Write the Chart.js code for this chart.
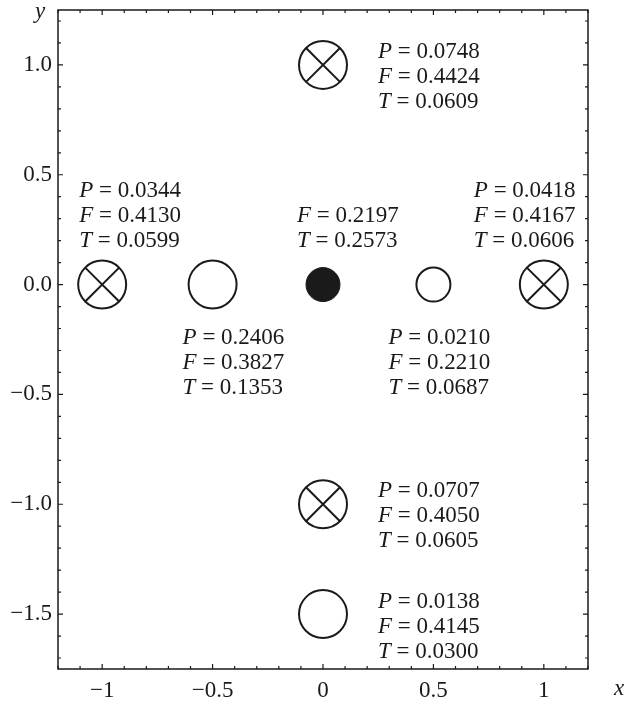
<!DOCTYPE html>
<html>
<head>
<meta charset="utf-8">
<script src="https://cdn.jsdelivr.net/npm/chart.js@4/dist/chart.umd.min.js"></script>
<style>
  html, body { margin: 0; padding: 0; background: #fff; }
</style>
</head>
<body>
<canvas id="myChart" width="625" height="706"></canvas>
<script>
// marker positions
const crossedX = [0, -1, 1, 0];
const crossedY = [1, 0, 0, -1];
const openX = [-0.5, 0.5, 0];
const openY = [0, 0, -1.5];
const filledX = [0];
const filledY = [0];

// annotations, one per point
const labelX = [0, -1, -0.5, 0, 0.5, 1, 0, 0];
const labelY = [1, 0, 0, 0, 0, 0, -1, -1.5];
const pValues = [0.0748, 0.0344, 0.2406, null, 0.0210, 0.0418, 0.0707, 0.0138];
const fValues = [0.4424, 0.4130, 0.3827, 0.2197, 0.2210, 0.4167, 0.4050, 0.4145];
const tValues = [0.0609, 0.0599, 0.1353, 0.2573, 0.0687, 0.0606, 0.0605, 0.0300];

// tick labels
const xTicks = [-1, -0.5, 0, 0.5, 1];
const yTicks = [-1.5, -1.0, -0.5, 0, 0.5, 1.0];

// layout of the text blocks (pixel offsets from the point)
const labelDx = [55, -23, -30, -26, -45, -70, 55, 55];
const labelDy = [-13, -94, 53, -69, 53, -94, -13, -12];
const openRadius = [24, 17, 24];

const ink = '#1a1a1a';
const serif = "'Liberation Serif', 'Times New Roman', serif";
const lineGap = 25;

const minus = v => (v < 0 ? '\u2212' : '');

const frameAndText = {
    id: 'frameAndText',
    afterDraw(chart) {
        const { ctx, chartArea: a, scales: { x, y } } = chart;
        ctx.save();
        ctx.strokeStyle = ink;
        ctx.lineWidth = 1.5;
        ctx.strokeRect(a.left, a.top, a.right - a.left, a.bottom - a.top);

        // inward ticks, every 0.1
        ctx.lineWidth = 1.2;
        ctx.beginPath();
        for (let i = -12; i <= 12; i++) {
            const px = x.getPixelForValue(i / 10);
            const len = i % 5 === 0 ? 5 : 3;
            ctx.moveTo(px, a.bottom); ctx.lineTo(px, a.bottom - len);
            ctx.moveTo(px, a.top); ctx.lineTo(px, a.top + len);
        }
        for (let i = -17; i <= 12; i++) {
            const py = y.getPixelForValue(i / 10);
            const len = i % 5 === 0 ? 5 : 3;
            ctx.moveTo(a.left, py); ctx.lineTo(a.left + len, py);
            ctx.moveTo(a.right, py); ctx.lineTo(a.right - len, py);
        }
        ctx.stroke();

        // axis names
        ctx.fillStyle = ink;
        ctx.font = 'italic 23px ' + serif;
        ctx.textAlign = 'center';
        ctx.textBaseline = 'middle';
        ctx.fillText('y', 40, 12);
        ctx.fillText('x', 619, 689);

        // annotations
        ctx.textAlign = 'left';
        for (let i = 0; i < labelX.length; i++) {
            const px = x.getPixelForValue(labelX[i]) + labelDx[i];
            let py = y.getPixelForValue(labelY[i]) + labelDy[i];
            const rows = [['P', pValues[i]], ['F', fValues[i]], ['T', tValues[i]]];
            rows.forEach(([name, val]) => {
                if (val === null) return;
                ctx.font = 'italic 23px ' + serif;
                ctx.fillText(name, px, py);
                const w = ctx.measureText(name).width;
                ctx.font = '23px ' + serif;
                ctx.fillText(' = ' + val.toFixed(4), px + w, py);
                py += lineGap;
            });
        }
        ctx.restore();
    }
};

const noPad = s => {
    s.paddingTop = 0;
    s.paddingBottom = 0;
    s.paddingLeft = 0;
    s.paddingRight = 0;
};

const toPoints = (xs, ys) => xs.map((v, i) => ({ x: v, y: ys[i] }));

const myChart = new Chart('myChart', {
    type: 'scatter',
    data: {
        datasets: [
            {
                data: toPoints(crossedX, crossedY),
                pointStyle: 'crossRot',
                pointRadius: 24,
                borderColor: ink,
                pointBorderWidth: 2,
                order: 0
            },
            {
                data: toPoints(crossedX, crossedY),
                pointStyle: 'circle',
                pointRadius: 24,
                backgroundColor: '#fff',
                borderColor: ink,
                pointBorderWidth: 2,
                order: 1
            },
            {
                data: toPoints(openX, openY),
                pointStyle: 'circle',
                pointRadius: ctx => openRadius[ctx.dataIndex],
                backgroundColor: '#fff',
                borderColor: ink,
                pointBorderWidth: 2,
                order: 1
            },
            {
                data: toPoints(filledX, filledY),
                pointStyle: 'circle',
                pointRadius: 17,
                backgroundColor: ink,
                borderColor: ink,
                pointBorderWidth: 1,
                order: 1
            }
        ]
    },
    options: {
        responsive: false,
        animation: false,
        events: [],
        layout: {
            autoPadding: false,
            padding: { top: 10, right: 37, left: 0, bottom: 0 }
        },
        scales: {
            x: {
                type: 'linear',
                min: -1.2,
                max: 1.2,
                grid: { display: false, drawTicks: false },
                border: { display: false },
                afterBuildTicks: s => { s.ticks = xTicks.map(v => ({ value: v })); },
                afterFit: s => { s.height = 37; noPad(s); },
                ticks: {
                    color: ink,
                    font: { family: serif, size: 23 },
                    padding: 8,
                    maxRotation: 0,
                    autoSkip: false,
                    callback: v => minus(v) + Math.abs(v)
                }
            },
            y: {
                type: 'linear',
                min: -1.75,
                max: 1.25,
                grid: { display: false, drawTicks: false },
                border: { display: false },
                afterBuildTicks: s => { s.ticks = yTicks.map(v => ({ value: v })); },
                afterFit: s => { s.width = 58; noPad(s); },
                ticks: {
                    color: ink,
                    font: { family: serif, size: 23 },
                    padding: 6,
                    autoSkip: false,
                    callback: v => minus(v) + Math.abs(v).toFixed(1)
                }
            }
        },
        plugins: {
            legend: false,
            tooltip: { enabled: false }
        }
    },
    plugins: [frameAndText]
});
</script>
</body>
</html>
